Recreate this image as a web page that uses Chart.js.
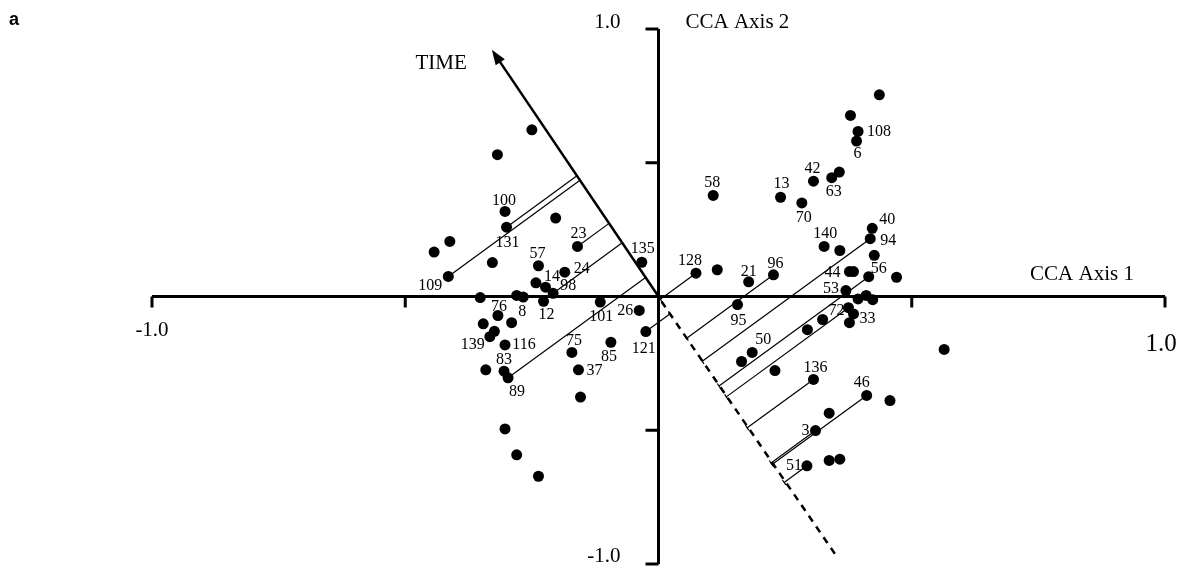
<!DOCTYPE html>
<html>
<head>
<meta charset="utf-8">
<title>CCA biplot</title>
<script src="https://cdn.jsdelivr.net/npm/chart.js@4.4.1/dist/chart.umd.min.js"></script>
<style>
  html, body { margin: 0; padding: 0; background: #fff; }
  #wrap { position: relative; width: 1186px; height: 571px; }
</style>
</head>
<body>
<div id="wrap"><canvas id="ccaChart"></canvas></div>
<script>
// Sample scores on CCA axis 1 and 2
const sampleX = [
  -0.250, -0.318, -0.303, -0.300, -0.203, -0.412, -0.443, -0.160, -0.328, -0.237,
  -0.185, -0.033, -0.415, -0.242, -0.223, -0.208, -0.352, -0.280, -0.267, -0.227,
  -0.317, -0.346, -0.290, -0.324, -0.333, -0.303, -0.341, -0.305, -0.297, -0.115,
  -0.038, -0.025, -0.171, -0.094, -0.158, -0.154, -0.303, -0.280, -0.237,
  0.436, 0.379, 0.394, 0.391, 0.306, 0.357, 0.342, 0.108, 0.241, 0.283,
  0.422, 0.418, 0.327, 0.358, 0.426, 0.074, 0.116, 0.178, 0.227, 0.377,
  0.385, 0.415, 0.470, 0.370, 0.394, 0.410, 0.423, 0.156, 0.375, 0.385,
  0.377, 0.324, 0.294, 0.185, 0.164, 0.230, 0.306, 0.411, 0.457, 0.337,
  0.310, 0.293, 0.337, 0.358, 0.564
];
const sampleY = [
  0.623, 0.530, 0.318, 0.259, 0.293, 0.206, 0.166, 0.187, 0.127, 0.115,
  0.091, 0.128, 0.075, 0.051, 0.035, 0.012, -0.004, 0.004, -0.002, -0.018,
  -0.071, -0.102, -0.098, -0.130, -0.150, -0.181, -0.274, -0.279, -0.304, -0.021,
  -0.052, -0.131, -0.209, -0.171, -0.274, -0.376, -0.495, -0.592, -0.672,
  0.754, 0.677, 0.617, 0.581, 0.431, 0.465, 0.444, 0.378, 0.371, 0.350,
  0.255, 0.216, 0.187, 0.172, 0.154, 0.087, 0.100, 0.055, 0.081, 0.093,
  0.093, 0.074, 0.072, 0.022, -0.009, 0.004, -0.012, -0.030, -0.042, -0.065,
  -0.098, -0.086, -0.124, -0.209, -0.243, -0.277, -0.310, -0.370, -0.389, -0.436,
  -0.501, -0.633, -0.613, -0.608, -0.198
];
const sampleLabels = [
  '', '', '100', '131', '', '', '', '23', '', '57',
  '24', '135', '109', '14', '', '98', '', '', '8', '12',
  '76', '', '', '', '139', '116', '', '83', '89', '101',
  '26', '121', '75', '85', '37', '', '', '', '',
  '', '', '108', '6', '42', '', '63', '58', '13', '70',
  '40', '94', '140', '', '', '128', '', '21', '96', '44',
  '', '56', '', '53', '', '', '', '95', '72', '',
  '33', '', '', '50', '', '', '136', '46', '', '',
  '3', '51', '', '', ''
];

// Environmental vector TIME (arrow tip) and end of its dashed negative extension
const timeVector = [-0.329, 0.922];
const timeNegEnd = [0.352, -0.972];

// samples projected onto the TIME axis
const projectedSamples = ['109', '131', '23', '98', '89', '121', '128', '96', '94', '56', '72', '136', '46', '3', '51'];

// axis ticks
const axisTicks = [-1, -0.5, 0.5, 1];
const axis1Title = 'CCA Axis 1';
const axis2Title = 'CCA Axis 2';
const vectorName = 'TIME';
const panelLetter = 'a';

// label offsets (px) from each labelled point
const labelOffsets = {
  '100': [-1, -11], '131': [1, 16], '23': [1, -13], '57': [-1, -12], '24': [17, -3],
  '135': [1, -13], '109': [-18, 9], '14': [16, -6], '98': [15, -7], '8': [-1, 15],
  '12': [3, 13], '76': [1, -9], '139': [-17, 8], '116': [19, 0], '83': [0, -11],
  '89': [9, 14], '101': [1, 15], '26': [-14, 0], '121': [-2, 17], '75': [2, -12],
  '85': [-2, 15], '37': [16, 1], '108': [21, 0], '6': [1, 13], '42': [-1, -12],
  '63': [2, 14], '58': [-1, -13], '13': [1, -13], '70': [2, 15], '40': [15, -8],
  '94': [18, 2], '140': [1, -13], '128': [-6, -12], '21': [0, -10], '96': [2, -11],
  '44': [-17, 1], '56': [10, -8], '53': [-15, -2], '95': [1, 16], '72': [-12, 3],
  '33': [18, -4], '50': [11, -13], '136': [2, -12], '46': [-5, -13], '3': [-10, 0],
  '51': [-13, 0]
};
// screen slope of the projection lines (drawn slightly off perpendicular, as in the figure)
const projectionSlope = -0.73;

const serif = '"Liberation Serif", "Times New Roman", serif';

const biplotPlugin = {
  id: 'biplot',
  beforeDatasetsDraw(chart) {
    const ctx = chart.ctx;
    const xs = chart.scales.x, ys = chart.scales.y;
    const ox = xs.getPixelForValue(0), oy = ys.getPixelForValue(0);
    ctx.save();
    ctx.strokeStyle = '#000';
    ctx.fillStyle = '#000';
    ctx.lineCap = 'butt';

    // axes
    ctx.lineWidth = 3;
    ctx.beginPath();
    ctx.moveTo(xs.getPixelForValue(-1), oy);
    ctx.lineTo(xs.getPixelForValue(1), oy);
    ctx.moveTo(ox, ys.getPixelForValue(1));
    ctx.lineTo(ox, ys.getPixelForValue(-1));
    axisTicks.forEach(v => {
      const px = xs.getPixelForValue(v);
      ctx.moveTo(px, oy);
      ctx.lineTo(px, oy + 11);
      const py = ys.getPixelForValue(v);
      ctx.moveTo(ox, py);
      ctx.lineTo(ox - 13, py);
    });
    ctx.stroke();

    // tick labels and titles
    ctx.textBaseline = 'middle';
    ctx.font = '21px ' + serif;
    ctx.textAlign = 'center';
    ctx.fillText('-1.0', xs.getPixelForValue(-1), oy + 34);
    ctx.textAlign = 'right';
    ctx.fillText('1.0', ox - 38, ys.getPixelForValue(1) - 7);
    ctx.fillText('-1.0', ox - 38, ys.getPixelForValue(-1) - 8);
    ctx.textAlign = 'left';
    ctx.fillText(axis2Title, ox + 27, ys.getPixelForValue(1) - 7);
    ctx.textAlign = 'center';
    ctx.fillText(axis1Title, xs.getPixelForValue(1) - 83, oy - 22);
    ctx.font = '25px ' + serif;
    ctx.fillText('1.0', xs.getPixelForValue(1) - 4, oy + 48);

    // TIME arrow
    const tx = xs.getPixelForValue(timeVector[0]), ty = ys.getPixelForValue(timeVector[1]);
    const len = Math.hypot(tx - ox, ty - oy);
    const ux = (tx - ox) / len, uy = (ty - oy) / len;
    ctx.lineWidth = 2.5;
    ctx.beginPath();
    ctx.moveTo(ox, oy);
    ctx.lineTo(tx - ux * 10, ty - uy * 10);
    ctx.stroke();
    ctx.beginPath();
    ctx.moveTo(tx, ty);
    ctx.lineTo(tx - ux * 15 - uy * 5.5, ty - uy * 15 + ux * 5.5);
    ctx.lineTo(tx - ux * 15 + uy * 5.5, ty - uy * 15 - ux * 5.5);
    ctx.closePath();
    ctx.fill();
    ctx.font = '21px ' + serif;
    ctx.textAlign = 'right';
    ctx.fillText(vectorName, tx - 25, ty + 14);

    // dashed negative extension
    ctx.setLineDash([7, 6]);
    ctx.beginPath();
    ctx.moveTo(ox + 3, oy + 5);
    ctx.lineTo(xs.getPixelForValue(timeNegEnd[0]), ys.getPixelForValue(timeNegEnd[1]));
    ctx.stroke();
    ctx.setLineDash([]);

    // projections of samples onto the TIME axis
    const wl = Math.hypot(1, projectionSlope);
    const wx = 1 / wl, wy = projectionSlope / wl;
    const denom = ux * wy - uy * wx;
    ctx.lineWidth = 1.2;
    projectedSamples.forEach(lab => {
      const i = sampleLabels.indexOf(lab);
      const px = xs.getPixelForValue(sampleX[i]), py = ys.getPixelForValue(sampleY[i]);
      const t = ((px - ox) * wy - (py - oy) * wx) / denom;
      const fx = ox + t * ux, fy = oy + t * uy;
      ctx.beginPath();
      ctx.moveTo(px, py);
      ctx.lineTo(fx, fy);
      if (t < 0) {
        ctx.moveTo(fx - ux * 3, fy - uy * 3);
        ctx.lineTo(fx + ux * 3, fy + uy * 3);
      }
      ctx.stroke();
    });

    // panel letter
    ctx.font = 'bold 18px "Liberation Sans", Arial, sans-serif';
    ctx.textAlign = 'left';
    ctx.fillText(panelLetter, 9, 20);
    ctx.restore();
  },
  afterDatasetsDraw(chart) {
    const ctx = chart.ctx;
    const xs = chart.scales.x, ys = chart.scales.y;
    ctx.save();
    ctx.fillStyle = '#000';
    ctx.font = '16px ' + serif;
    ctx.textAlign = 'center';
    ctx.textBaseline = 'middle';
    sampleLabels.forEach((lab, i) => {
      if (!lab) return;
      const off = labelOffsets[lab] || [0, -12];
      ctx.fillText(lab, xs.getPixelForValue(sampleX[i]) + off[0], ys.getPixelForValue(sampleY[i]) + off[1]);
    });
    ctx.restore();
  }
};

const ctx = document.getElementById('ccaChart').getContext('2d');
const ccaChart = new Chart(ctx, {
  type: 'scatter',
  data: {
    datasets: [{
      label: 'Samples',
      data: sampleX.map((x, i) => ({ x: x, y: sampleY[i] })),
      backgroundColor: '#000',
      borderWidth: 0,
      pointRadius: 5.5,
      pointHoverRadius: 5.5
    }]
  },
  options: {
    responsive: true,
    maintainAspectRatio: false,
    animation: false,
    events: [],
    layout: { padding: { left: 152, right: 21, top: 29, bottom: 7 } },
    plugins: {
      legend: { display: false },
      tooltip: { enabled: false }
    },
    scales: {
      x: { type: 'linear', min: -1, max: 1, display: false },
      y: { type: 'linear', min: -1, max: 1, display: false }
    }
  },
  plugins: [biplotPlugin]
});
</script>
</body>
</html>
